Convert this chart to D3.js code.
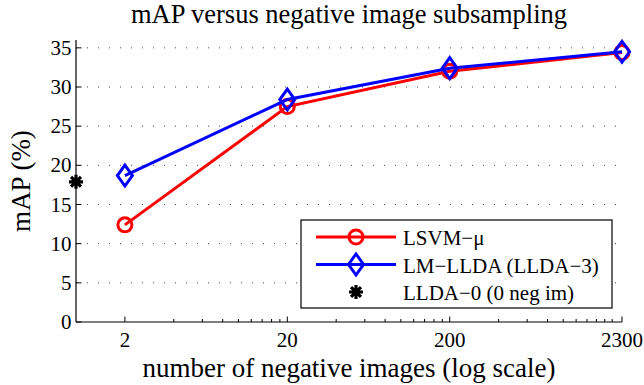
<!DOCTYPE html>
<html>
<head>
<meta charset="utf-8">
<script src="https://cdn.jsdelivr.net/npm/d3@7"></script>
<style>
  body { margin: 0; background: #fff; }
</style>
</head>
<body>
<div id="chart"></div>
<script>
// data
const negImages = [2, 20, 200, 2300];
const lsvmMu = [12.4, 27.5, 32.0, 34.4];
const lmLlda = [18.7, 28.4, 32.4, 34.5];
const llda0 = { x: 1, y: 17.9 };
const yTicks = [0, 5, 10, 15, 20, 25, 30, 35];
const xTickLabels = ['2', '20', '200', '2300'];
const legendLabels = ['LSVM\u2212\u03bc', 'LM\u2212LLDA (LLDA\u22123)', 'LLDA\u22120 (0 neg im)'];

const W = 644, H = 385;
const margin = {top: 40, right: 22, bottom: 63, left: 76};
const width = W - margin.left - margin.right;
const height = H - margin.top - margin.bottom;
const serif = "'Liberation Serif', 'Times New Roman', Times, serif";

const svg = d3.select('#chart').append('svg')
  .attr('width', W).attr('height', H)
  .attr('font-family', serif);

const g = svg.append('g')
  .attr('transform', `translate(${margin.left},${margin.top})`);

const x = d3.scaleLog().domain([1, 2300]).range([0, width]);
const y = d3.scaleLinear().domain([0, 36]).range([height, 0]);

// dotted horizontal grid
g.selectAll('.grid')
  .data(yTicks.slice(1))
  .enter().append('line')
  .attr('x1', 0).attr('x2', width)
  .attr('y1', d => y(d)).attr('y2', d => y(d))
  .attr('stroke', '#444').attr('stroke-width', 1)
  .attr('stroke-dasharray', '1,10');

// minor ticks on the log axis (the labels are 2x the underlying scale)
const minor = [];
[1, 10, 100].forEach(dec => {
  for (let k = 2; k <= 9; k++) minor.push(2 * k * dec);
});
minor.push(2000);

const xAxis = g.append('g')
  .attr('transform', `translate(0,${height})`);
xAxis.append('line')
  .attr('x1', 0).attr('x2', width)
  .attr('stroke', '#000').attr('stroke-width', 1.2);
xAxis.selectAll('.minor')
  .data(minor)
  .enter().append('line')
  .attr('x1', d => x(d)).attr('x2', d => x(d))
  .attr('y1', 0).attr('y2', -3)
  .attr('stroke', '#000').attr('stroke-width', 1);
xAxis.selectAll('.major')
  .data(negImages)
  .enter().append('line')
  .attr('x1', d => x(d)).attr('x2', d => x(d))
  .attr('y1', 0).attr('y2', -5.5)
  .attr('stroke', '#000').attr('stroke-width', 1);
xAxis.selectAll('.xlab')
  .data(negImages)
  .enter().append('text')
  .attr('x', d => x(d))
  .attr('y', 25)
  .attr('text-anchor', 'middle')
  .style('font-size', '21px')
  .text((d, i) => xTickLabels[i]);

const yAxis = g.append('g');
yAxis.append('line')
  .attr('y1', 0).attr('y2', height)
  .attr('stroke', '#000').attr('stroke-width', 1.2);
yAxis.selectAll('.ytick')
  .data(yTicks)
  .enter().append('line')
  .attr('x1', 0).attr('x2', 5.5)
  .attr('y1', d => y(d)).attr('y2', d => y(d))
  .attr('stroke', '#000').attr('stroke-width', 1);
yAxis.selectAll('.ylab')
  .data(yTicks)
  .enter().append('text')
  .attr('x', -4.5)
  .attr('y', d => y(d) + 7)
  .attr('text-anchor', 'end')
  .style('font-size', '21px')
  .text(d => d);

// titles
svg.append('text')
  .attr('x', margin.left + width / 2).attr('y', 23)
  .attr('text-anchor', 'middle')
  .style('font-size', '26.5px')
  .text('mAP versus negative image subsampling');

svg.append('text')
  .attr('x', margin.left + width / 2).attr('y', 377)
  .attr('text-anchor', 'middle')
  .style('font-size', '27px')
  .text('number of negative images (log scale)');

svg.append('text')
  .attr('transform', `translate(30,${margin.top + height / 2}) rotate(-90)`)
  .attr('text-anchor', 'middle')
  .style('font-size', '27px')
  .text('mAP (%)');

// series
const line = d3.line().x(d => x(d[0])).y(d => y(d[1]));
const redPts = negImages.map((v, i) => [v, lsvmMu[i]]);
const bluePts = negImages.map((v, i) => [v, lmLlda[i]]);

const diamond = (cx, cy) => `M${cx},${cy - 10.5}L${cx + 7.5},${cy}L${cx},${cy + 10.5}L${cx - 7.5},${cy}Z`;
const star = (cx, cy) => {
  const r = 7, q = r * Math.SQRT1_2;
  return `M${cx - r},${cy}L${cx + r},${cy}M${cx},${cy - r}L${cx},${cy + r}` +
    `M${cx - q},${cy - q}L${cx + q},${cy + q}M${cx - q},${cy + q}L${cx + q},${cy - q}`;
};

g.append('path').datum(redPts)
  .attr('d', line).attr('fill', 'none')
  .attr('stroke', '#ff0000').attr('stroke-width', 3);
g.selectAll('.circ').data(redPts).enter().append('circle')
  .attr('cx', d => x(d[0])).attr('cy', d => y(d[1])).attr('r', 7)
  .attr('fill', 'none').attr('stroke', '#ff0000').attr('stroke-width', 3);

g.append('path').datum(bluePts)
  .attr('d', line).attr('fill', 'none')
  .attr('stroke', '#0000ff').attr('stroke-width', 3);
g.selectAll('.diam').data(bluePts).enter().append('path')
  .attr('d', d => diamond(x(d[0]), y(d[1])))
  .attr('fill', 'none').attr('stroke', '#0000ff').attr('stroke-width', 3);

g.append('path')
  .attr('d', star(x(llda0.x), y(llda0.y)))
  .attr('stroke', '#000').attr('stroke-width', 3.2);

// legend
const leg = svg.append('g').attr('transform', 'translate(301,220)');
leg.append('rect')
  .attr('width', 311).attr('height', 88)
  .attr('fill', '#fff').attr('stroke', '#000').attr('stroke-width', 1.2);
const rows = [17, 44.5, 72];
leg.append('line').attr('x1', 15).attr('x2', 95).attr('y1', rows[0]).attr('y2', rows[0])
  .attr('stroke', '#ff0000').attr('stroke-width', 3);
leg.append('circle').attr('cx', 55).attr('cy', rows[0]).attr('r', 7)
  .attr('fill', 'none').attr('stroke', '#ff0000').attr('stroke-width', 3);
leg.append('line').attr('x1', 15).attr('x2', 95).attr('y1', rows[1]).attr('y2', rows[1])
  .attr('stroke', '#0000ff').attr('stroke-width', 3);
leg.append('path').attr('d', diamond(55, rows[1]))
  .attr('fill', 'none').attr('stroke', '#0000ff').attr('stroke-width', 3);
leg.append('path').attr('d', star(55, rows[2]))
  .attr('stroke', '#000').attr('stroke-width', 3.2);
leg.selectAll('.ltxt').data(legendLabels).enter().append('text')
  .attr('x', 102).attr('y', (d, i) => rows[i] + 8)
  .style('font-size', '21px')
  .text(d => d);
</script>
</body>
</html>
